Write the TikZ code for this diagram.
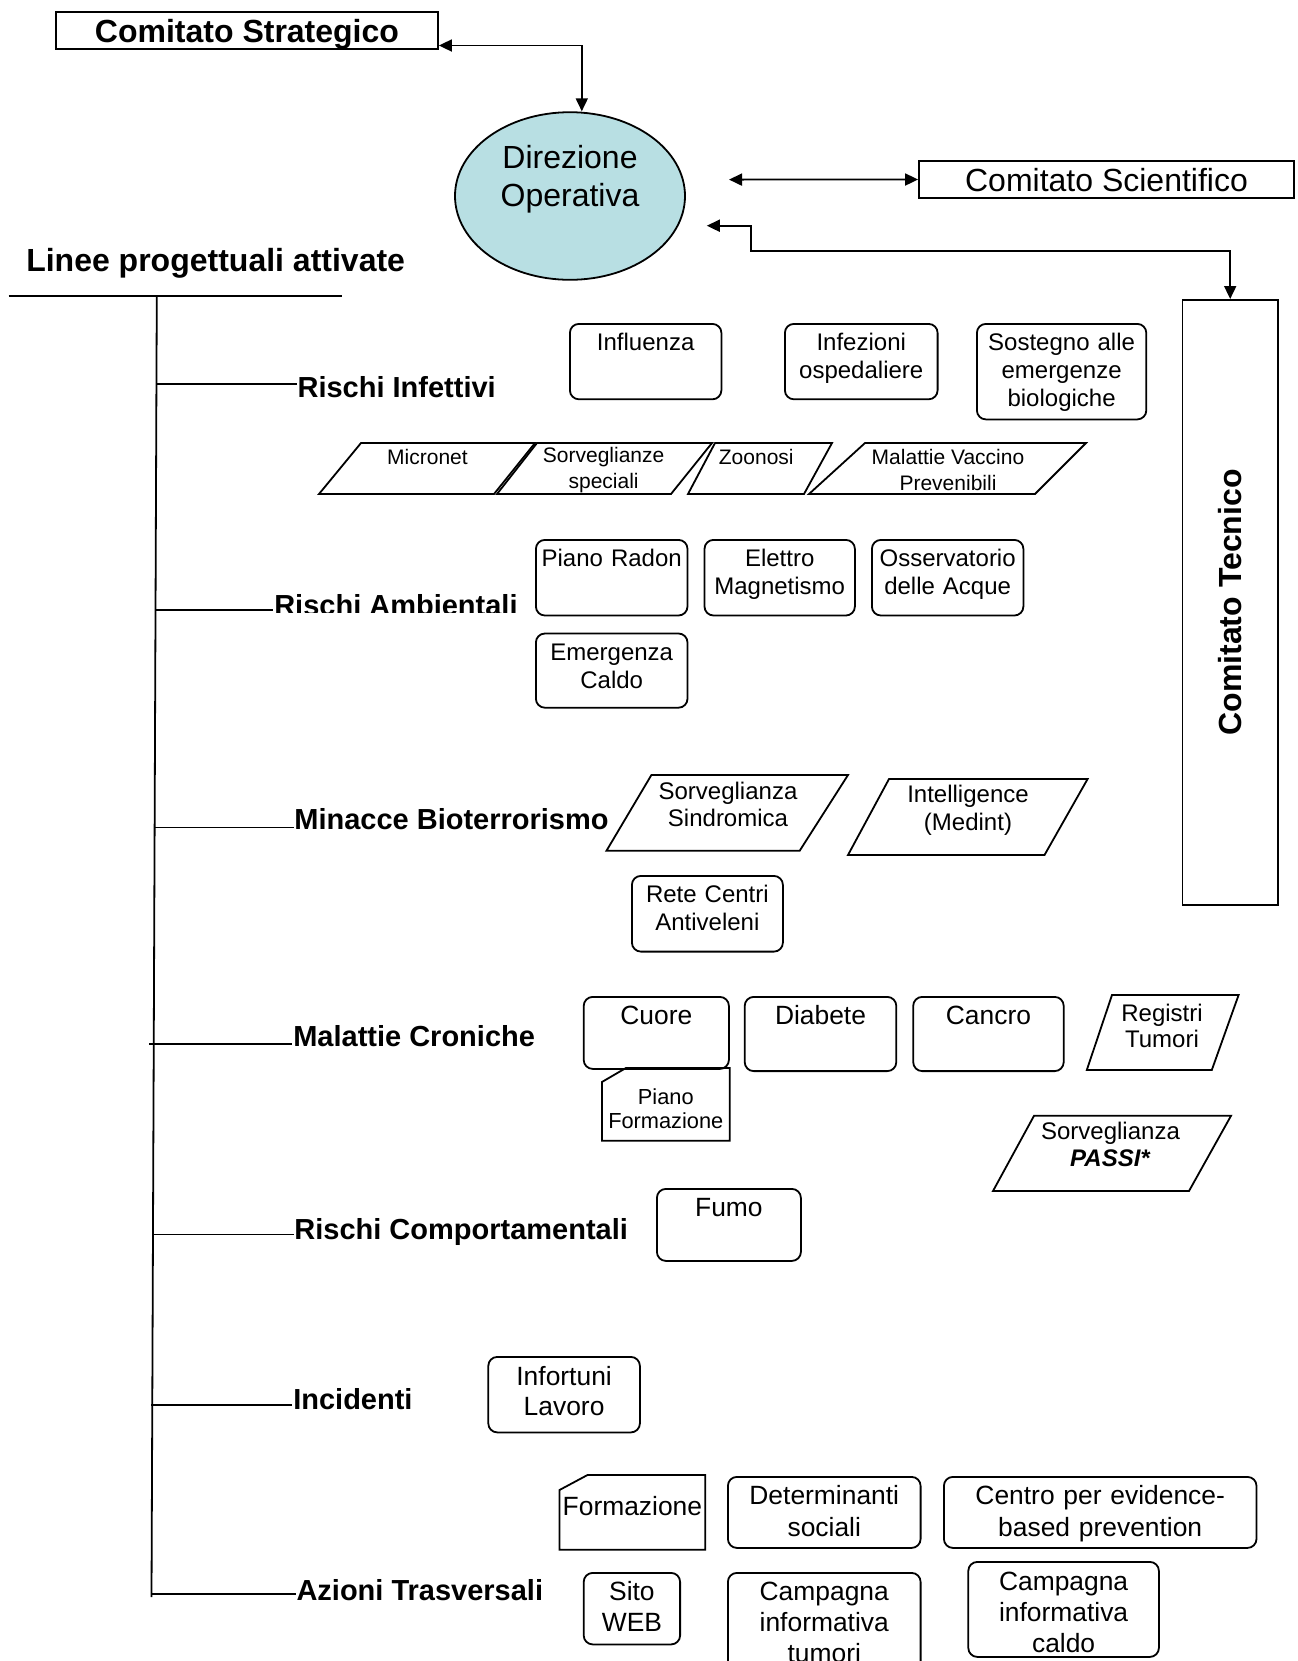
\documentclass[tikz,border=0pt]{standalone}
\usepackage{fontspec}
\setmainfont{Liberation Sans}
\usetikzlibrary{arrows.meta,shapes.geometric}

\definecolor{dirfill}{RGB}{184,223,227}

\begin{document}
\begin{tikzpicture}[x=1pt,y=-1pt,line width=0.9pt,
    fbig/.style={font=\fontsize{16}{19}\selectfont},
    fbigb/.style={font=\bfseries\fontsize{16}{19}\selectfont},
    fcat/.style={font=\bfseries\fontsize{14.5}{17}\selectfont,inner sep=0pt},
    fsmall/.style={font=\fontsize{12}{13.8}\selectfont},
    fmini/.style={font=\fontsize{10.5}{13}\selectfont},
    fmid/.style={font=\fontsize{13.2}{15.6}\selectfont},
    card/.style={draw,rounded corners=4.5pt,inner sep=0pt,align=center,
      anchor=north west,text height=13.5pt},
    tag/.style={inner sep=0pt,align=center},
    arr/.style={{Triangle[length=6.5pt,width=6pt]}-{Triangle[length=6.5pt,width=6pt]}}]

  \clip (0,0) rectangle (648.5,830.5);

  % committees
  \node[draw,fbigb,minimum width=191pt,minimum height=18.5pt,inner sep=0pt,
    text height=11.5pt,text depth=0pt] (strat) at (123.5,15.25) {Comitato Strategico};
  \node[draw,ellipse,fill=dirfill,fbig,minimum width=115pt,minimum height=83.8pt,
    inner sep=0pt,align=center,text width=80pt,text height=12pt,text depth=39.8pt]
    (dir) at (285,98) {Direzione\\Operativa};
  \node[draw,fbig,minimum width=187.5pt,minimum height=18.5pt,inner sep=0pt,
    text height=11.5pt,text depth=0pt] (scient) at (553.25,89.75) {Comitato Scientifico};
  \node[draw,fbigb,minimum width=47.7pt,minimum height=302.5pt,inner sep=0pt]
    (tecnico) at (615.1,301.2) {\rotatebox{90}{Comitato Tecnico}};

  \coordinate (dirout) at (364.5,89.8);
  \coordinate (dirin) at (353.4,112.85);
  \coordinate (tbend) at (375.65,125.55);
  \draw[arr] ([yshift=-7.5pt]strat.east) -| ([xshift=5.9pt]dir.north);
  \draw[arr] (dirout) -- (scient.west);
  \draw[arr] (tecnico.north) |- (tbend) |- (dirin);

  % tree of project lines
  \node[fbigb,anchor=base west,inner sep=0pt] (linee) at (12.7,135.6)
    {Linee progettuali attivate};
  \coordinate (ulleft) at (4.25,147.8);
  \coordinate (ulright) at (171,147.8);
  \coordinate (trunktop) at (78.4,147.8);
  \coordinate (trunkbot) at (75.75,798.5);
  \draw (ulleft) -- (ulright);
  \draw (trunktop) -- (trunkbot);

  \node[fcat,anchor=base west] (infett) at (148.35,198.6) {Rischi Infettivi};
  \begin{scope}
    \clip (120,280) rectangle (270,306.3);
    \node[fcat,anchor=base west] (ambient) at (136.7,307.9) {Rischi Ambientali};
  \end{scope}
  \node[fcat,anchor=base west] (bioterr) at (146.75,414.7) {Minacce Bioterrorismo};
  \node[fcat,anchor=base west] (cronic) at (146.2,523.35) {Malattie Croniche};
  \node[fcat,anchor=base west] (comport) at (146.75,619.7) {Rischi Comportamentali};
  \node[fcat,anchor=base west] (incid) at (146.2,704.5) {Incidenti};
  \node[fcat,anchor=base west] (azioni) at (147.8,800.4) {Azioni Trasversali};

  \coordinate (b1) at (78.22,191.8);
  \coordinate (b2) at (77.76,305.15);
  \coordinate (b3) at (77.32,413.75);
  \coordinate (b4) at (74.7,521.85);
  \coordinate (b5) at (76.49,617.2);
  \coordinate (b6) at (75.7,702.5);
  \coordinate (b7) at (75.76,796.8);
  \draw (b1) -- (b1 -| infett.west);
  \draw (b2) -- (b2 -| ambient.west);
  \draw (b3) -- (b3 -| bioterr.west);
  \draw (b4) -- (b4 -| cronic.west);
  \draw (b5) -- (b5 -| comport.west);
  \draw (b6) -- (b6 -| incid.west);
  \draw (b7) -- (b7 -| azioni.west);

  % rischi infettivi
  \node[card,fsmall,text width=75.75pt,text depth=24.2pt] (influenza) at (284.5,161.5)
    {Influenza};
  \node[card,fsmall,text width=76.35pt,text depth=24.2pt] (infezioni) at (392,161.5)
    {Infezioni\\ospedaliere};
  \node[card,fsmall,text width=84.7pt,text depth=34.25pt] (sostegno) at (488,161.5)
    {Sostegno alle\\emergenze\\biologiche};

  \draw (180.5,221.5) -- (267.5,221.5) -- (247,247) -- (159.5,247) -- cycle;
  \draw (268.5,221.5) -- (356,221.5) -- (335.5,247) -- (248.5,247) -- cycle;
  \draw (357.5,221.5) -- (416,221.5) -- (402,247) -- (344,247) -- cycle;
  \draw (432.5,221.5) -- (543,221.5) -- (517.5,247) -- (404.5,247) -- cycle;
  \node[tag,fmini] (micronet) at (213.75,228.5) {Micronet};
  \node[tag,fmini] (sorvspec) at (301.8,235) {Sorveglianze\\speciali};
  \node[tag,fmini,anchor=west] (zoonosi) at (359,228.5) {Zoonosi};
  \node[tag,fmini] (malvacc) at (474,235) {Malattie Vaccino\\Prevenibili};

  % rischi ambientali
  \node[card,fsmall,text width=75.8pt,text depth=24.3pt] (radon) at (267.5,269.5)
    {Piano Radon};
  \node[card,fsmall,text width=75.2pt,text depth=24.3pt] (elettro) at (351.8,269.5)
    {Elettro\\Magnetismo};
  \node[card,fsmall,text width=75.75pt,text depth=24.3pt] (acque) at (435.5,269.5)
    {Osservatorio\\delle Acque};
  \node[card,fsmall,text width=75.8pt,text depth=23.6pt] (caldo) at (267.5,316.3)
    {Emergenza\\Caldo};

  % minacce bioterrorismo
  \draw (325.7,387.5) -- (424,387.5) -- (399.85,425.35) -- (303.25,425.35) -- cycle;
  \draw (444.5,389.5) -- (543.8,389.5) -- (522.25,427.5) -- (424,427.5) -- cycle;
  \node[tag,fsmall] (sorvsind) at (364,402.3) {Sorveglianza\\Sindromica};
  \node[tag,fsmall] (intell) at (484,405) {Intelligence\\(Medint)};
  \node[card,fsmall,text width=75.5pt,text depth=24.35pt] (rete) at (315.5,437.5)
    {Rete Centri\\Antiveleni};

  % malattie croniche
  \node[card,fmid,text width=72.6pt,text height=14pt,text depth=22pt] (cuore)
    at (291.4,498) {Cuore};
  \node[card,fmid,text width=75.8pt,text height=14pt,text depth=23.1pt] (diabete)
    at (371.9,498) {Diabete};
  \node[card,fmid,text width=75.25pt,text height=14pt,text depth=23.1pt] (cancro)
    at (456.15,498) {Cancro};
  \draw (556,497.5) -- (619.3,497.5) -- (605.9,535) -- (543.4,535) -- cycle;
  \node[tag,font=\fontsize{12}{13.2}\selectfont] (registri) at (581,513)
    {Registri\\Tumori};
  \node[tag,font=\fontsize{10.9}{12}\selectfont,anchor=north west,text width=63pt,
    text height=18pt,text depth=17.5pt] (pianoform) at (300.95,534)
    {Piano\\Formazione};
  \draw (pianoform.north west) ++(0,7) -- ++(12,-7) -- (pianoform.north east)
    -- (pianoform.south east) -- (pianoform.south west) -- cycle;
  \draw (517,557.9) -- (615.5,557.9) -- (594.5,595.5) -- (496.5,595.5) -- cycle;
  \node[tag,fsmall] (passi) at (555.25,572.3)
    {Sorveglianza\\\textbf{\textit{PASSI*}}};

  % rischi comportamentali
  \node[card,fmid,text width=72pt,text height=13.7pt,text depth=22.3pt] (fumo)
    at (328,594) {Fumo};

  % incidenti
  \node[card,font=\fontsize{13.2}{14.8}\selectfont,text width=75.8pt,
    text height=14.35pt,text depth=23.4pt] (infortuni) at (243.7,678)
    {Infortuni\\Lavoro};

  % azioni trasversali
  \node[tag,fmid,anchor=north west,text width=72pt,text height=20pt,
    text depth=16.5pt] (formaz) at (279.75,737.5) {Formazione};
  \draw (formaz.north west) ++(0,7.5) -- ++(14,-7.5) -- (formaz.north east)
    -- (formaz.south east) -- (formaz.south west) -- cycle;
  \node[card,font=\fontsize{13.2}{16}\selectfont,text width=96.35pt,
    text height=13.7pt,text depth=21.8pt] (determ) at (363.5,738)
    {Determinanti\\sociali};
  \node[card,font=\fontsize{13.2}{16}\selectfont,text width=156.3pt,
    text height=13.7pt,text depth=21.8pt] (centro) at (471.5,738)
    {Centro per evidence-\\based prevention};
  \node[card,font=\fontsize{13.2}{15.3}\selectfont,text width=48.2pt,
    text height=13.95pt,text depth=21.8pt] (sito) at (291.4,786)
    {Sito\\WEB};
  \node[card,font=\fontsize{13.2}{15.3}\selectfont,text width=96.35pt,
    text height=14pt,text depth=40pt] (tumori) at (363.5,786)
    {Campagna\\informativa\\tumori};
  \node[card,font=\fontsize{13.2}{15.6}\selectfont,text width=95.3pt,
    text height=14.2pt,text depth=33.3pt] (caldoinfo) at (483.7,780.5)
    {Campagna\\informativa\\caldo};

\end{tikzpicture}
\end{document}
